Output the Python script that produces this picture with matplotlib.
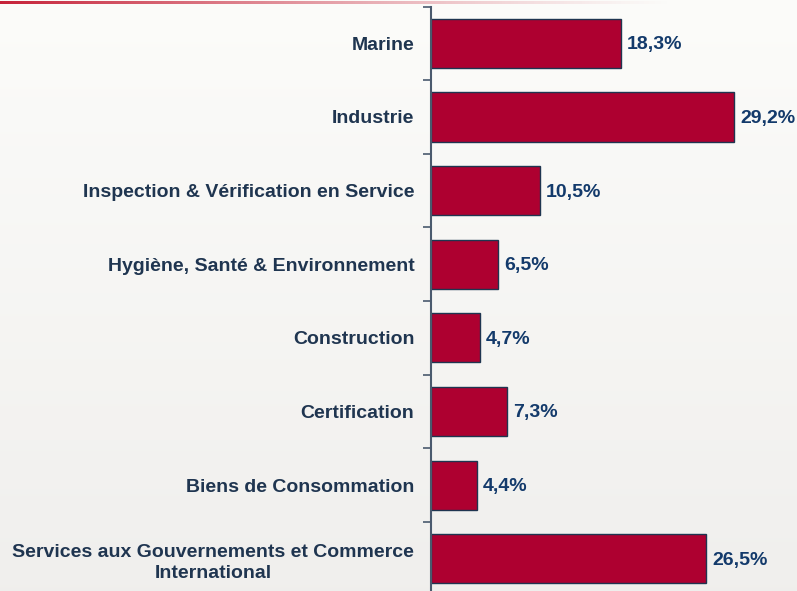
import numpy as np
import matplotlib
matplotlib.use("Agg")
import matplotlib.pyplot as plt

categories = [
    "Marine",
    "Industrie",
    "Inspection & Vérification en Service",
    "Hygiène, Santé & Environnement",
    "Construction",
    "Certification",
    "Biens de Consommation",
    "Services aux Gouvernements et Commerce\nInternational",
]
values = [18.3, 29.2, 10.5, 6.5, 4.7, 7.3, 4.4, 26.5]
value_labels = ["18,3%", "29,2%", "10,5%", "6,5%", "4,7%", "7,3%", "4,4%", "26,5%"]

plt.rcParams['font.family'] = ['Liberation Sans', 'DejaVu Sans']

W, H = 797, 591
fig = plt.figure(figsize=(W / 100, H / 100), dpi=100)

# fond en dégradé (blanc -> gris clair)
bg = fig.add_axes([0, 0, 1, 1], zorder=-10)
grad = np.linspace(0, 1, 256)[:, None]
top = np.array([0.988, 0.988, 0.980])
bot = np.array([0.941, 0.937, 0.929])
img = top[None, None, :] * (1 - grad[..., None]) + bot[None, None, :] * grad[..., None]
bg.imshow(img, aspect='auto', extent=[0, 1, 0, 1])
bg.axis('off')

# filet rouge en haut, qui s'estompe vers la droite
line_ax = fig.add_axes([0, 1 - 4 / H, 1, 3 / H], zorder=-5)
alpha = np.clip(1 - np.linspace(0, 1, 400) / 0.85, 0, 1) ** 1.3
rgba = np.zeros((1, 400, 4))
rgba[..., 0], rgba[..., 1], rgba[..., 2] = 0.78, 0.13, 0.22
rgba[..., 3] = alpha
line_ax.imshow(rgba, aspect='auto', extent=[0, 1, 0, 1])
line_ax.axis('off')

# axe principal
x0 = 431 / W
y_top = 6.5 / H
y_bot = -4.6 / H
ax = fig.add_axes([x0, y_bot, 1 - x0, 1 - y_top - y_bot])
ax.patch.set_alpha(0)

n = len(categories)
ypos = np.arange(n)
ax.barh(ypos, values, height=0.667, color='#ae0030', edgecolor='#1f3550', linewidth=1.0)
ax.set_ylim(n - 0.5, -0.5)
ax.set_xlim(0, 366 / 10.38)

for y, v, lab in zip(ypos, values, value_labels):
    ax.text(v + 0.6, y + 0.02, lab, va='center', ha='left', fontsize=14,
            fontweight='bold', color='#133a6b')

ax.set_yticks(ypos)
ax.set_yticklabels(categories, fontsize=14, fontweight='bold', color='#1f3550',
                   multialignment='center', linespacing=1.35)
ax.set_yticks(np.arange(n + 1) - 0.5, minor=True)
ax.tick_params(axis='y', which='major', length=0, pad=12)
ax.tick_params(axis='y', which='minor', length=6, width=1.2, color='#4a5a6e')
ax.set_xticks([])
for s in ['top', 'right', 'bottom']:
    ax.spines[s].set_visible(False)
ax.spines['left'].set_color('#4a5a6e')
ax.spines['left'].set_linewidth(1.5)

fig.savefig('out.png', dpi=100)
